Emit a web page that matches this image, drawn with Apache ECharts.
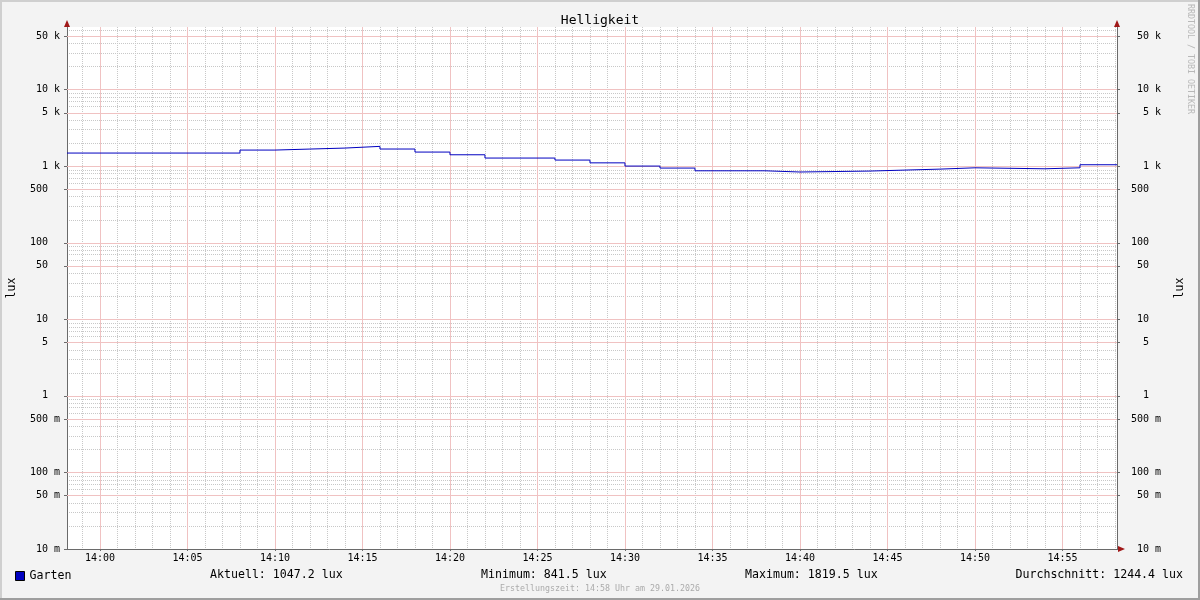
<!DOCTYPE html>
<html>
<head>
<meta charset="utf-8">
<script src="https://cdn.jsdelivr.net/npm/echarts@6/dist/echarts.min.js"></script>
<style>html,body{margin:0;padding:0;background:#F3F3F3}#c{width:1200px;height:600px}</style>
</head>
<body>
<div id="c"></div>
<script>
// ---- data ----
var day = '2026-01-29';
var stepTimes = ['13:58:07','14:08','14:10','14:12','14:14','14:16','14:18','14:20','14:22','14:26','14:28','14:30','14:32','14:34','14:38','14:40','14:44','14:48','14:50','14:54','14:56','14:58:07'];
var luxValues = [1488,1628,1678,1729,1819.5,1680,1533,1413,1280,1205,1108,1006,947,873,841.5,866,918,955,927,955,1047.2,1047.2];
var timeStart = '13:58:07';
var timeEnd = '14:58:07';
var xMajorTicks = ['14:00','14:05','14:10','14:15','14:20','14:25','14:30','14:35','14:40','14:45','14:50','14:55'];
var yMajorTicks = [0.01,0.05,0.1,0.5,1,5,10,50,100,500,1000,5000,10000,50000];
var yMinorMantissas = [2,3,4,6,7,8,9];
var yDecades = [-2,-1,0,1,2,3,4];
var seriesName = 'Garten';
var statLabels = ['Aktuell','Minimum','Maximum','Durchschnitt'];
var statValues = ['1047.2','841.5','1819.5','1244.4'];
var unit = 'lux';
var titleText = 'Helligkeit';
var footerText = 'Erstellungszeit: 14:58 Uhr am 29.01.2026';
var watermark = 'RRDTOOL / TOBI OETIKER';

// ---- helpers ----
function ts(t){ return new Date(day + 'T' + (t.length === 5 ? t + ':00' : t)).getTime(); }
var mono = 'DejaVu Sans Mono';
var yMin = 0.00999, yMax = 66000;

var lineData = stepTimes.map(function(t,i){ return [ts(t), luxValues[i]]; });

var yMinor = [];
yDecades.forEach(function(e){ yMinorMantissas.forEach(function(m){ var v = m*Math.pow(10,e); if (v < yMax) yMinor.push(v); }); });
var xMinor = [];
var x0 = ts('13:59'), x1 = ts(timeEnd);
for (var t = x0; t <= x1; t += 60000) { if (new Date(t).getMinutes() % 5 !== 0) xMinor.push(t); }
var xMajor = xMajorTicks.map(ts);
var yMajorGrid = yMajorTicks.filter(function(v){ return v > 0.011; });

var minorColor = '#C8C8C8', majorColor = '#F0C2C2';

function pad3(n){ var s = String(n); while (s.length < 3) s = ' ' + s; return s; }
function yFmt(v){
  if (v >= 999) return pad3(Math.round(v/1000)) + ' k';
  if (v < 0.999) return pad3(Math.round(v*1000)) + ' m';
  return pad3(Math.round(v)) + ' ';
}
function xFmt(v){ var d = new Date(v); var h = d.getHours(), m = d.getMinutes(); return (h<10?'0':'')+h+':'+(m<10?'0':'')+m; }

var axisColor = '#6A6A6A';
function yAxisCfg(pos, margin){
  return {
    type:'log', logBase:10, min:yMin, max:yMax, position:pos, z:3,
    name: unit, nameLocation:'middle', nameRotate:90, nameGap: pos==='left'?49:57, nameMoveOverlap:false,
    nameTextStyle:{fontFamily:mono, fontSize:11.5, color:'#000'},
    axisLine:{show:true, lineStyle:{color:axisColor, width:1}},
    axisTick:{show:true, length:3, inside:false, customValues:yMajorTicks, lineStyle:{color:axisColor}},
    minorTick:{show:false},
    splitLine:{show:false}, minorSplitLine:{show:false},
    axisLabel:{show:true, customValues:yMajorTicks, formatter:yFmt, align:'left', margin:margin,
      fontFamily:mono, fontSize:10, color:'#000'}
  };
}
function gridAxis(type, pos, values, color, z){
  var a = {
    type:type, position:pos, z:z, show:true,
    axisLine:{show:false}, axisLabel:{show:false}, minorTick:{show:false}, minorSplitLine:{show:false},
    axisTick:{show:false, customValues:values},
    splitLine:{show:true, showMinLine:true, showMaxLine:true, lineStyle:{color:color, width:1, type:[1,1]}}
  };
  if (type === 'log') { a.logBase = 10; a.min = yMin; a.max = yMax; }
  else { a.min = ts(timeStart); a.max = ts(timeEnd); }
  return a;
}
var xMainAxis = {
  type:'value', min:ts(timeStart), max:ts(timeEnd), position:'bottom', z:3,
  axisLine:{show:true, onZero:false, lineStyle:{color:axisColor, width:1}},
  axisTick:{show:true, length:2, customValues:xMajor, lineStyle:{color:axisColor}},
  splitLine:{show:false}, minorSplitLine:{show:false},
  axisLabel:{show:true, customValues:xMajor, formatter:xFmt, margin:4, fontFamily:mono, fontSize:10, color:'#000'}
};

// major grid lines as markLines (coloured)
var majorLineStyle = {color:majorColor, width:1, type:'solid', opacity:1};
var majorLines = [];
yMajorGrid.forEach(function(v){ majorLines.push({yAxis:v}); });
xMajor.forEach(function(v){ majorLines.push({xAxis:v}); });

var W = 1200, H = 600;
var statX = [210, 481, 745, 1183];
var graphics = [
  {type:'rect', shape:{x:0,y:0,width:W,height:2}, style:{fill:'#CFCFCF'}, silent:true},
  {type:'rect', shape:{x:0,y:0,width:2,height:H}, style:{fill:'#CFCFCF'}, silent:true},
  {type:'rect', shape:{x:W-2,y:0,width:2,height:H}, style:{fill:'#9E9E9E'}, silent:true},
  {type:'rect', shape:{x:0,y:H-2,width:W,height:2}, style:{fill:'#9E9E9E'}, silent:true},
  {type:'polygon', shape:{points:[[64,27],[70,27],[67,20]]}, style:{fill:'#A01818'}, silent:true, z:100},
  {type:'polygon', shape:{points:[[1114,27],[1120,27],[1117,20]]}, style:{fill:'#A01818'}, silent:true, z:100},
  {type:'polygon', shape:{points:[[1118,546],[1118,552],[1125,549]]}, style:{fill:'#A01818'}, silent:true, z:100},
  {type:'text', x:1190, y:4, rotation:-Math.PI/2, style:{text:watermark, fontFamily:mono, fontSize:8.3, fill:'#B8B8B8', textAlign:'left', textVerticalAlign:'middle'}, silent:true},
  {type:'text', x:600, y:589, style:{text:footerText, fontFamily:mono, fontSize:8.3, fill:'#ABABAB', textAlign:'center', textVerticalAlign:'middle'}, silent:true}
];
statLabels.forEach(function(l,i){
  graphics.push({type:'text', x:statX[i], y:575, style:{text:l+': '+statValues[i]+' '+unit, fontFamily:mono, fontSize:11.6, fill:'#000',
    textAlign: i===statLabels.length-1?'right':'left', textVerticalAlign:'middle'}, silent:true});
});

var chart = echarts.init(document.getElementById('c'), null, {renderer:'canvas', width:W, height:H});
chart.setOption({
  animation:false,
  backgroundColor:'#F3F3F3',
  title:{text:titleText, left:'center', top:9, textStyle:{fontFamily:mono, fontSize:13, fontWeight:'normal', color:'#000'}},
  legend:{data:[seriesName], left:10, top:565, icon:'rect', itemWidth:9, itemHeight:9, itemGap:10,
    itemStyle:{borderColor:'#000', borderWidth:1},
    textStyle:{fontFamily:mono, fontSize:11.6, color:'#000'}, selectedMode:false},
  grid:{left:67, right:83, top:27, bottom:51, show:true, backgroundColor:'#FFFFFF', borderWidth:0,
    containLabel:false, outerBoundsMode:'none'},
  xAxis:[xMainAxis, gridAxis('value','top',xMinor,minorColor,1)],
  yAxis:[yAxisCfg('left',37), yAxisCfg('right',14), gridAxis('log','left',yMinor,minorColor,1)],
  graphic:graphics,
  series:[
    {type:'line', name:'majorgrid', data:[], z:2, silent:true, showSymbol:false, xAxisIndex:0, yAxisIndex:0,
      markLine:{silent:true, symbol:['none','none'], label:{show:false}, animation:false,
        lineStyle:majorLineStyle, emphasis:{disabled:true, lineStyle:majorLineStyle}, data:majorLines}},
    {type:'line', name:seriesName, data:lineData, step:'end', showSymbol:false, z:5, color:'#0000C0',
      xAxisIndex:0, yAxisIndex:0,
      lineStyle:{color:'#0000C0', width:1}, emphasis:{disabled:true}}
  ]
});
</script>
</body>
</html>
